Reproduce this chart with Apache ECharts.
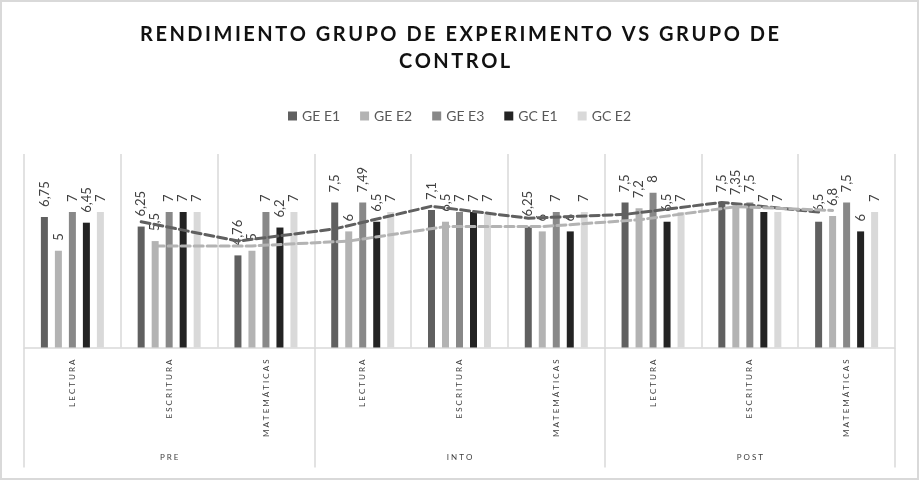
<!DOCTYPE html>
<html>
<head>
<meta charset="utf-8">
<script src="https://cdn.jsdelivr.net/npm/echarts@6/dist/echarts.min.js"></script>
<style>
html,body{margin:0;padding:0;background:#fff;}
#chart{width:919px;height:480px;}
</style>
</head>
<body>
<div id="chart"></div>
<script>
const categories = ['LECTURA','ESCRITURA','MATEMÁTICAS','LECTURA','ESCRITURA','MATEMÁTICAS','LECTURA','ESCRITURA','MATEMÁTICAS'];
const groups = ['PRE','INTO','POST'];
const seriesNames = ['GE E1','GE E2','GE E3','GC E1','GC E2'];
const geE1 = [6.75, 6.25, 4.76, 7.5, 7.1, 6.25, 7.5, 7.5, 6.5];
const geE2 = [5, 5.5, 5, 6, 6.5, 6, 7.2, 7.35, 6.8];
const geE3 = [7, 7, 7, 7.49, 7, 7, 8, 7.5, 7.5];
const gcE1 = [6.45, 7, 6.2, 6.5, 7, 6, 6.5, 7, 6];
const gcE2 = [7, 7, 7, 7, 7, 7, 7, 7, 7];
// moving-average (period 2) trendlines shown in the reference
const trendGeE1 = [null, 6.5, 5.5, 6.13, 7.3, 6.68, 6.88, 7.5, 7.0];
const trendGeE2 = [null, 5.25, 5.25, 5.5, 6.25, 6.25, 6.6, 7.28, 7.08];

const seriesValues = [geE1, geE2, geE3, gcE1, gcE2];
const colors = ['#606060', '#b3b3b3', '#888888', '#232323', '#d9d9d9'];

const GRID_LEFT = 24, GRID_RIGHT = 24, CHART_W = 919;
const BAR_W = 7;
const catWidth = (CHART_W - GRID_LEFT - GRID_RIGHT) / categories.length;
const stepUnits = (BAR_W * 2) / catWidth;

function spaced(s, sep) { return s.split('').join(sep); }

const barSeries = seriesNames.map((name, k) => ({
  name: name,
  type: 'bar',
  xAxisIndex: 0,
  yAxisIndex: 0,
  barWidth: BAR_W,
  barGap: '100%',
  data: seriesValues[k],
  itemStyle: { color: colors[k] },
  label: {
    show: true,
    position: 'top',
    rotate: 90,
    align: 'left',
    verticalAlign: 'middle',
    distance: 10,
    fontFamily: 'Lato',
    fontSize: 13,
    color: '#404040',
    formatter: p => String(p.value).replace('.', ',')
  }
}));

function trendData(arr, seriesIdx) {
  const out = [];
  arr.forEach((v, i) => {
    if (v !== null) out.push([i + 0.5 + (seriesIdx - 2) * stepUnits, v]);
  });
  return out;
}

const lineSeries = [
  { arr: trendGeE1, idx: 0, color: '#606060' },
  { arr: trendGeE2, idx: 1, color: '#b3b3b3' }
].map(t => ({
  type: 'line',
  xAxisIndex: 2,
  yAxisIndex: 0,
  data: trendData(t.arr, t.idx),
  showSymbol: false,
  symbol: 'none',
  silent: true,
  z: 5,
  lineStyle: { color: t.color, width: 3, type: [9, 4], cap: 'round' }
}));

const chart = echarts.init(document.getElementById('chart'), null, { renderer: 'canvas' });
chart.setOption({
  animation: false,
  backgroundColor: '#ffffff',
  title: {
    text: spaced('RENDIMIENTO GRUPO DE EXPERIMENTO VS GRUPO DE', '\u2009') + '\n' + spaced('CONTROL', '\u2009') + '\u2009 \u2009',
    left: 'center',
    top: 16,
    textStyle: { fontFamily: 'Lato', fontWeight: 'bold', fontSize: 20, lineHeight: 27, color: '#111111' }
  },
  legend: {
    data: seriesNames,
    top: 104,
    left: 'center',
    icon: 'rect',
    itemWidth: 9,
    itemHeight: 9,
    itemGap: 20,
    textStyle: { fontFamily: 'Lato', fontSize: 14, color: '#595959' }
  },
  graphic: [{
    type: 'rect',
    shape: { x: 1, y: 1, width: 917, height: 478 },
    style: { fill: 'none', stroke: '#d9d9d9', lineWidth: 2 },
    silent: true
  }],
  grid: { left: GRID_LEFT, right: GRID_RIGHT, top: 154, bottom: 132.5, containLabel: false },
  xAxis: [
    {
      type: 'category',
      data: categories,
      position: 'bottom',
      axisLine: { show: true, lineStyle: { color: '#d9d9d9', width: 1.5 } },
      axisTick: { show: false },
      axisLabel: {
        interval: 0,
        rotate: 90,
        margin: 12,
        fontFamily: 'Lato',
        fontSize: 8,
        color: '#404040',
        formatter: v => spaced(v, ' ')
      },
      splitLine: { show: true, interval: 0, lineStyle: { color: '#d9d9d9', width: 1.5 } }
    },
    {
      type: 'category',
      data: groups,
      position: 'bottom',
      axisLine: { show: false },
      axisTick: { show: true, length: 120, interval: 0, lineStyle: { color: '#d9d9d9', width: 1.5 } },
      axisLabel: {
        interval: 0,
        margin: 106,
        fontFamily: 'Lato',
        fontSize: 8,
        color: '#404040',
        formatter: v => spaced(v, ' ')
      },
      splitLine: { show: false }
    },
    {
      type: 'value',
      min: 0,
      max: categories.length,
      show: false,
      position: 'top'
    }
  ],
  yAxis: [{
    type: 'value',
    min: 0,
    max: 10,
    show: false,
    splitLine: { show: false }
  }],
  series: barSeries.concat(lineSeries)
});
</script>
</body>
</html>
